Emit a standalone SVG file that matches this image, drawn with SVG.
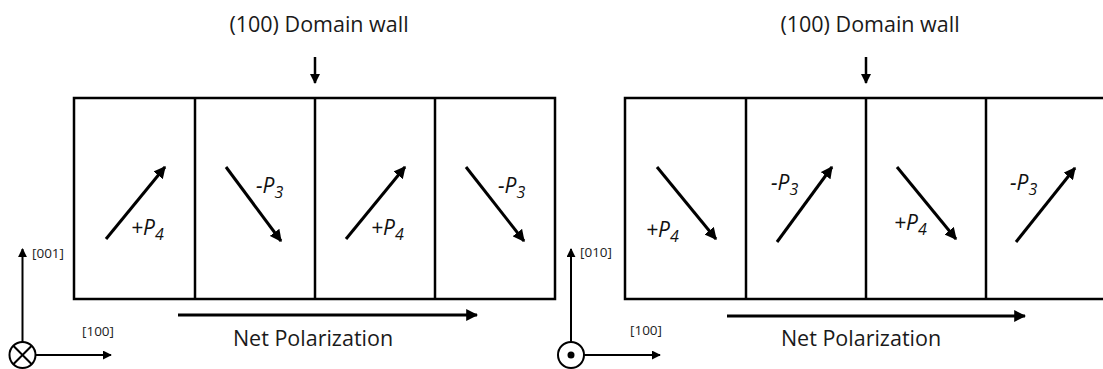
<svg xmlns="http://www.w3.org/2000/svg" width="1103" height="369" viewBox="0 0 1103 369">
<style>
.box{fill:none;stroke:#000;stroke-width:2.5}
.wall{stroke:#000;stroke-width:2.5}
.arr{stroke:#000;stroke-width:3;fill:none}
.ax{stroke:#000;stroke-width:2;fill:none}
.t{font-family:"Open Sans","DejaVu Sans",sans-serif;fill:#1a1a1a;font-size:21.5px}
.ti{font-family:"Open Sans","DejaVu Sans",sans-serif;fill:#111;font-size:21px;font-style:italic}
.ti tspan.s{font-size:16px}
.lab{font-family:"Open Sans","DejaVu Sans",sans-serif;fill:#222;font-size:13.5px}
</style>
<defs>
<marker id="ah" viewBox="0 0 10 10" refX="9" refY="5" markerWidth="4" markerHeight="4" orient="auto" markerUnits="strokeWidth"><path d="M0,0 L10,5 L0,10 z" fill="#000"/></marker>
<marker id="ah2" viewBox="0 0 10 10" refX="9" refY="5" markerWidth="4.5" markerHeight="4.5" orient="auto" markerUnits="strokeWidth"><path d="M0,0 L10,5 L0,10 z" fill="#000"/></marker>
</defs>

<g id="left-panel">
<g id="left-box">
<rect class="box" x="74" y="98" width="481" height="201"/>
<line class="wall" x1="195" y1="98" x2="195" y2="299"/>
<line class="wall" x1="315" y1="98" x2="315" y2="299"/>
<line class="wall" x1="435" y1="98" x2="435" y2="299"/>
</g>
<text class="t" x="319" y="32" text-anchor="middle">(100) Domain wall</text>
<g id="left-cell1"><text class="ti" x="131" y="235">+P<tspan class="s" dy="5">4</tspan></text></g>
<g id="left-cell2"><text class="ti" x="256" y="193">-P<tspan class="s" dy="5">3</tspan></text></g>
<g id="left-cell3"><text class="ti" x="371" y="235">+P<tspan class="s" dy="5">4</tspan></text></g>
<g id="left-cell4"><text class="ti" x="498" y="193">-P<tspan class="s" dy="5">3</tspan></text></g>
<text class="t" x="313" y="346" text-anchor="middle">Net Polarization</text>
<g id="left-axes">
<circle class="ax" cx="22.5" cy="355" r="13"/>
<line class="ax" x1="13.3" y1="345.8" x2="31.7" y2="364.2"/>
<line class="ax" x1="31.7" y1="345.8" x2="13.3" y2="364.2"/>
<text class="lab" x="32" y="258">[001]</text>
<text class="lab" x="82" y="336">[100]</text>
</g>
</g>

<g id="right-panel">
<g id="right-box">
<rect class="box" x="625" y="98" width="485" height="201"/>
<line class="wall" x1="746" y1="98" x2="746" y2="299"/>
<line class="wall" x1="866" y1="98" x2="866" y2="299"/>
<line class="wall" x1="986" y1="98" x2="986" y2="299"/>
</g>
<text class="t" x="870" y="32" text-anchor="middle">(100) Domain wall</text>
<g id="right-cell1"><text class="ti" x="646" y="237">+P<tspan class="s" dy="5">4</tspan></text></g>
<g id="right-cell2"><text class="ti" x="771" y="190">-P<tspan class="s" dy="5">3</tspan></text></g>
<g id="right-cell3"><text class="ti" x="894" y="230">+P<tspan class="s" dy="5">4</tspan></text></g>
<g id="right-cell4"><text class="ti" x="1010" y="190">-P<tspan class="s" dy="5">3</tspan></text></g>
<text class="t" x="861" y="346" text-anchor="middle">Net Polarization</text>
<g id="right-axes">
<circle class="ax" cx="571" cy="355" r="13"/>
<circle cx="571" cy="355" r="3.5" fill="#000"/>
<text class="lab" x="580" y="257">[010]</text>
<text class="lab" x="630" y="335">[100]</text>
</g>
</g>

<g id="connectors">
<line class="arr" x1="315" y1="57" x2="315" y2="83" marker-end="url(#ah)" style="stroke-width:2.5"/>
<line class="arr" x1="866" y1="57" x2="866" y2="83" marker-end="url(#ah)" style="stroke-width:2.5"/>
<line class="arr" x1="106" y1="239" x2="165" y2="167" marker-end="url(#ah)"/>
<line class="arr" x1="226" y1="167" x2="281" y2="241" marker-end="url(#ah)"/>
<line class="arr" x1="346" y1="239" x2="405" y2="167" marker-end="url(#ah)"/>
<line class="arr" x1="466" y1="167" x2="524" y2="241" marker-end="url(#ah)"/>
<line class="arr" x1="657" y1="167" x2="716" y2="239" marker-end="url(#ah)"/>
<line class="arr" x1="777" y1="242" x2="832" y2="167" marker-end="url(#ah)"/>
<line class="arr" x1="897" y1="167" x2="956" y2="239" marker-end="url(#ah)"/>
<line class="arr" x1="1016" y1="242" x2="1075" y2="168" marker-end="url(#ah)"/>
<line class="arr" x1="178" y1="315" x2="477" y2="315" marker-end="url(#ah)"/>
<line class="arr" x1="727" y1="316" x2="1025" y2="316" marker-end="url(#ah)"/>
<line class="ax" x1="22.5" y1="342" x2="22.5" y2="249" marker-end="url(#ah2)"/>
<line class="ax" x1="35.5" y1="355" x2="111" y2="355" marker-end="url(#ah2)"/>
<line class="ax" x1="571" y1="342" x2="571" y2="249" marker-end="url(#ah2)"/>
<line class="ax" x1="584" y1="355" x2="660" y2="355" marker-end="url(#ah2)"/>
</g>
</svg>
